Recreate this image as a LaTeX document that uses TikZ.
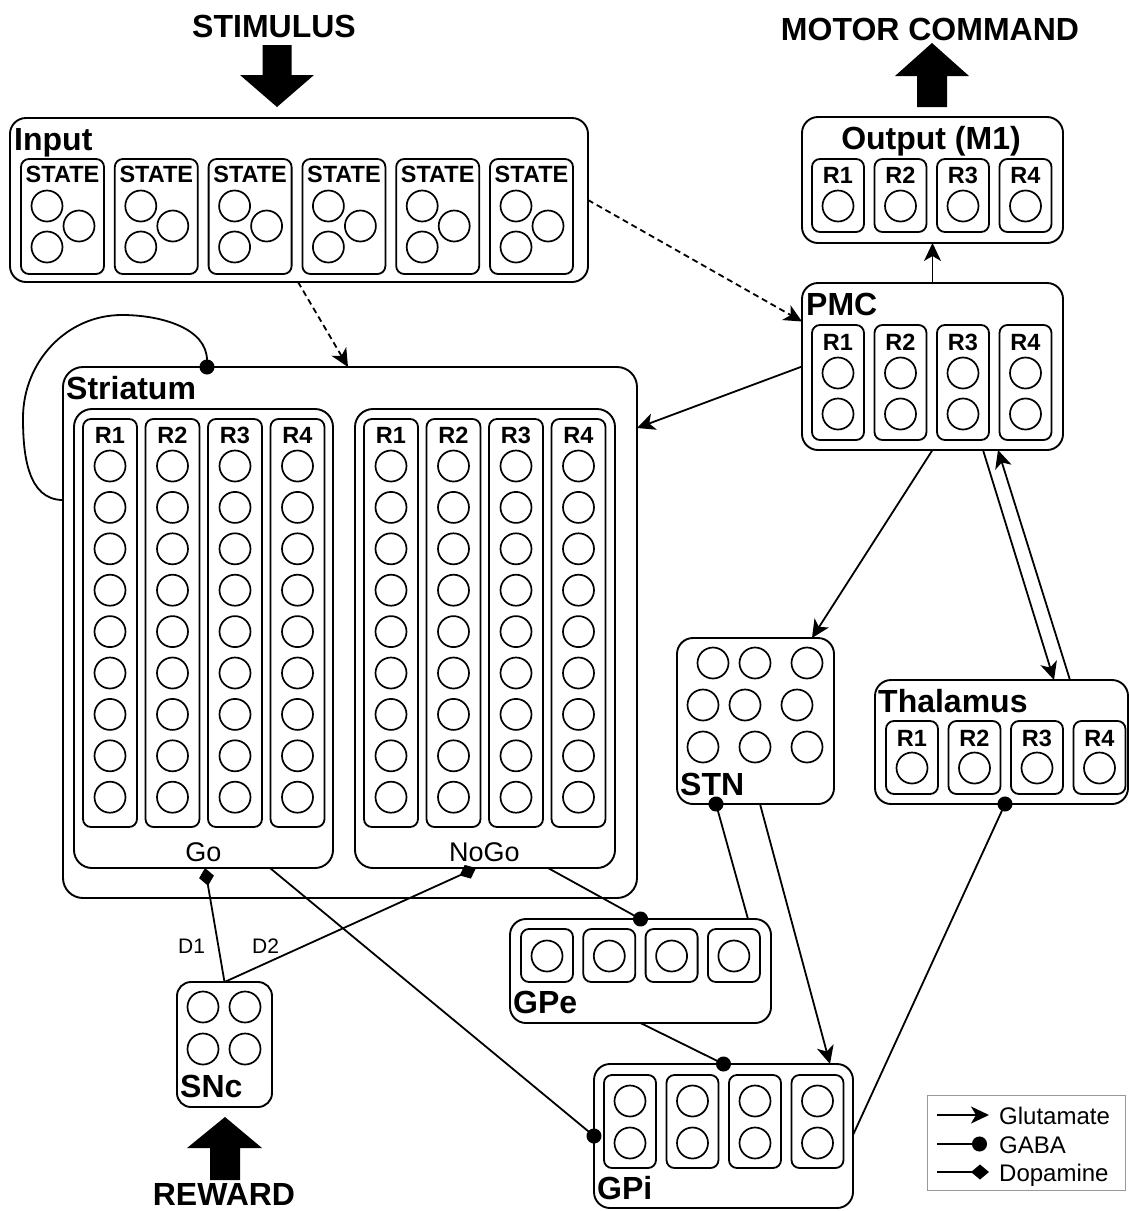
\documentclass[tikz,border=0pt]{standalone}
\usepackage{fontspec}
\setmainfont{Liberation Sans}
\usetikzlibrary{arrows.meta}
\begin{document}
\begin{tikzpicture}[x=1pt,y=-1pt,
  box/.style={draw, rounded corners=16pt, line width=1.9pt, inner sep=0pt, outer sep=0pt},
  subbox/.style={draw, rounded corners=8pt, line width=1.8pt, inner sep=0pt},
  cell/.style={draw, circle, line width=1.7pt, minimum size=31pt, inner sep=0pt},
  lbl/.style={font=\bfseries\fontsize{32}{32}\selectfont, inner sep=0pt, anchor=base west},
  ttl/.style={font=\bfseries\fontsize{32}{32}\selectfont, inner sep=0pt, anchor=base},
  rlbl/.style={font=\bfseries\fontsize{23.5}{23.5}\selectfont, inner sep=0pt, anchor=base},
  plain/.style={font=\fontsize{27}{27}\selectfont, inner sep=0pt, anchor=base},
  dlbl/.style={font=\fontsize{21}{21}\selectfont, inner sep=0pt, anchor=base west},
  leglbl/.style={font=\fontsize{24}{24}\selectfont, inner sep=0pt, anchor=base west},
  conn/.style={line width=1.8pt},
  glut/.style={conn, -{Stealth[length=18pt,width=17pt,inset=5pt]}},
  glutd/.style={glut, dash pattern=on 6pt off 4pt},
  gaba/.style={conn, -{Circle[length=15pt]}, shorten >=-7.5pt},
  gabalg/.style={conn, -{Circle[length=15pt]}},
  dopa/.style={conn, -{Diamond[length=18pt,width=15pt]}}
]
\useasboundingbox (0,0) rectangle (1129,1211);

% ---------- titles and big arrows ----------
\node[ttl] (stim) at (274,37) {STIMULUS};
\node[ttl] (motor) at (930,40) {MOTOR COMMAND};
\node[ttl] (reward) at (224,1205) {REWARD};
\fill (262.5,45) -- (291.5,45) -- (291.5,75) -- (314,75) -- (277,107) -- (240,75) -- (262.5,75) -- cycle;
\fill (917,107) -- (947,107) -- (947,76) -- (969,76) -- (932,43) -- (895,76) -- (917,76) -- cycle;
\fill (210,1180) -- (240,1180) -- (240,1148) -- (262,1148) -- (225,1117) -- (187,1148) -- (210,1148) -- cycle;

% ---------- Input ----------
\node[box, minimum width=578pt, minimum height=164pt] (input) at (299,200) {};
\node[lbl] (inputl) at (14,150) {Input};
\foreach \i in {0,...,5}{
  \pgfmathsetmacro\lx{21+93.8*\i}
  \node[subbox, minimum width=83pt, minimum height=115pt] (st\i) at (\lx+41.5,216.5) {};
  \node[rlbl] (stl\i) at (\lx+41.5,182) {STATE};
  \node[cell] (st\i-a) at (\lx+26,206) {};
  \node[cell] (st\i-b) at (\lx+58,226) {};
  \node[cell] (st\i-c) at (\lx+26,247) {};
}

% ---------- Output (M1) ----------
\node[box, minimum width=261pt, minimum height=126pt] (out) at (932.5,180) {};
\node[ttl] (outl) at (931,149) {Output (M1)};
\foreach \j/\r in {0/R1,1/R2,2/R3,3/R4}{
  \node[subbox, minimum width=52pt, minimum height=73pt] (out\j) at (838+62.5*\j,195.5) {};
  \node[rlbl] (outr\j) at (838+62.5*\j,183) {\r};
  \node[cell] (outc\j) at (838+62.5*\j,206) {};
}

% ---------- PMC ----------
\node[box, minimum width=261pt, minimum height=167pt] (pmc) at (932.5,366.5) {};
\node[lbl] (pmcl) at (806,315) {PMC};
\foreach \j/\r in {0/R1,1/R2,2/R3,3/R4}{
  \node[subbox, minimum width=52pt, minimum height=115pt] (pmc\j) at (838+62.5*\j,382.5) {};
  \node[rlbl] (pmcr\j) at (838+62.5*\j,350) {\r};
  \node[cell] (pmc\j-a) at (838+62.5*\j,373) {};
  \node[cell] (pmc\j-b) at (838+62.5*\j,414) {};
}

% ---------- Striatum ----------
\node[box, rounded corners=20pt, minimum width=574pt, minimum height=531pt] (str) at (350,632.5) {};
\node[lbl] (strl) at (66,399) {Striatum};
\node[box, rounded corners=18pt, minimum width=259pt, minimum height=459pt] (go) at (203.5,638.5) {};
\node[box, rounded corners=18pt, minimum width=260pt, minimum height=459pt] (nogo) at (485,638.5) {};
\node[plain] (gol) at (203.5,861) {Go};
\node[plain] (nogol) at (484.5,861) {NoGo};
\foreach \g/\x in {g/110,n/391}{
  \foreach \j/\r in {0/R1,1/R2,2/R3,3/R4}{
    \node[subbox, minimum width=54pt, minimum height=408pt] (\g\j) at (\x+62.5*\j,623) {};
    \node[rlbl] (\g r\j) at (\x+62.5*\j,443) {\r};
    \foreach \k in {0,...,8}{
      \node[cell] (\g\j-\k) at (\x+62.5*\j,466+41.4*\k) {};
    }
  }
}

% ---------- STN ----------
\node[box, minimum width=157pt, minimum height=166pt] (stn) at (755.5,721) {};
\node[lbl] (stnl) at (680,795) {STN};
\foreach \n/\cx/\cy in {1/713/663,2/755/663,3/807/663,4/703/705,5/745/705,6/797/705,7/703/747,8/755/747,9/807/747}{
  \node[cell] (stn\n) at (\cx,\cy) {};
}

% ---------- Thalamus ----------
\node[box, minimum width=253pt, minimum height=124pt] (thal) at (1001.5,742) {};
\node[lbl] (thall) at (878,712) {Thalamus};
\foreach \j/\r in {0/R1,1/R2,2/R3,3/R4}{
  \node[subbox, minimum width=52pt, minimum height=73pt] (th\j) at (912+62.5*\j,757.5) {};
  \node[rlbl] (thr\j) at (912+62.5*\j,746) {\r};
  \node[cell] (thc\j) at (912+62.5*\j,768) {};
}

% ---------- GPe ----------
\node[box, minimum width=261pt, minimum height=104pt] (gpe) at (640.5,971) {};
\node[lbl] (gpel) at (513,1013) {GPe};
\foreach \j in {0,...,3}{
  \node[subbox, minimum width=52pt, minimum height=53pt] (gpe\j) at (547+62.3*\j,955.5) {};
  \node[cell] (gpec\j) at (547+62.3*\j,956) {};
}

% ---------- GPi ----------
\node[box, minimum width=259pt, minimum height=144pt] (gpi) at (723.5,1136) {};
\node[lbl] (gpil) at (597,1199) {GPi};
\foreach \j in {0,...,3}{
  \node[subbox, minimum width=52pt, minimum height=93pt] (gpi\j) at (630+62.5*\j,1121.5) {};
  \node[cell] (gpi\j-a) at (630+62.5*\j,1101) {};
  \node[cell] (gpi\j-b) at (630+62.5*\j,1143) {};
}

% ---------- SNc ----------
\node[box, rounded corners=14pt, minimum width=95pt, minimum height=125pt] (snc) at (224.5,1044.5) {};
\node[lbl] (sncl) at (180,1097) {SNc};
\node[cell] (snc1) at (203,1007) {};
\node[cell] (snc2) at (245,1007) {};
\node[cell] (snc3) at (203,1049) {};
\node[cell] (snc4) at (245,1049) {};

% ---------- connectors ----------
\draw[glutd] ([xshift=-1pt]input.south) -- ([xshift=-2pt]str.north);
\draw[glutd] (input.east) -- ([yshift=45pt]pmc.west);
\draw[glut] (pmc.north) -- (out.south);
\draw[glut] (pmc.west) -- ([yshift=204.5pt]str.east);
\draw[glut] (pmc.south) -- ([xshift=56.5pt]stn.north);
\draw[glut] ([xshift=50.5pt]pmc.south) -- ([xshift=52.5pt]thal.north);
\draw[glut] ([xshift=68.5pt]thal.north) -- ([xshift=65.5pt]pmc.south);
\coordinate (loopA) at (23,418);
\coordinate (loopB) at (122,315);
\draw[gaba] ([yshift=132.5pt]str.west) to[out=180,in=270] (loopA) to[out=90,in=180] (loopB) to[out=0,in=90] ([xshift=-143pt]str.north);
\draw[dopa] (snc.north) -- ([xshift=1.5pt]go.south);
\draw[dopa] (snc.north) -- ([xshift=-9pt]nogo.south);
\node[dlbl] (d1) at (178,953) {D1};
\node[dlbl] (d2) at (252,953) {D2};
\draw[gaba] ([xshift=66.5pt]go.south) -- (gpi.west);
\draw[gaba] ([xshift=63pt]nogo.south) -- (gpe.north);
\draw[gaba] ([xshift=107.5pt]gpe.north) -- ([xshift=-39.5pt]stn.south);
\draw[glut] ([xshift=4.5pt]stn.south) -- ([xshift=106.5pt]gpi.north);
\draw[gaba] (gpe.south) -- (gpi.north);
\draw[gaba] ([yshift=1pt]gpi.east) -- ([xshift=3.5pt]thal.south);

% ---------- legend ----------
\node[draw=gray!80, line width=1pt, minimum width=198pt, minimum height=95pt, inner sep=0pt] (legend) at (1026,1142.5) {};
\coordinate (lg1s) at (937,1115); \coordinate (lg1e) at (989,1115);
\coordinate (lg2s) at (937,1144); \coordinate (lg2e) at (987,1144);
\coordinate (lg3s) at (937,1172); \coordinate (lg3e) at (989,1172);
\draw[glut] (lg1s) -- (lg1e);
\draw[gabalg] (lg2s) -- (lg2e);
\draw[dopa] (lg3s) -- (lg3e);
\node[leglbl] (lgt1) at (999,1124) {Glutamate};
\node[leglbl] (lgt2) at (999,1153) {GABA};
\node[leglbl] (lgt3) at (999,1181) {Dopamine};
\end{tikzpicture}
\end{document}
